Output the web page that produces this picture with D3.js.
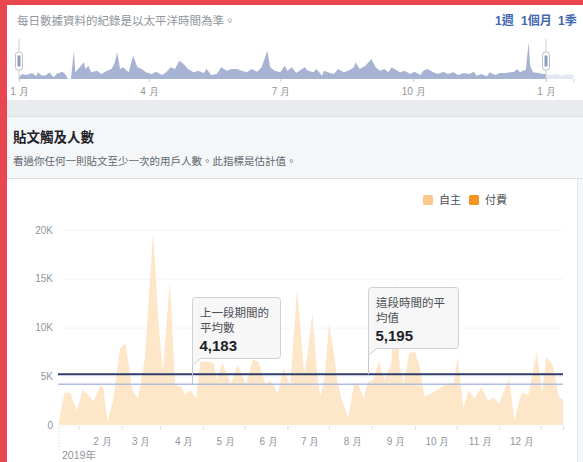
<!DOCTYPE html>
<html>
<head>
<meta charset="utf-8">
<script src="https://cdn.jsdelivr.net/npm/d3@7"></script>
<style>
  body { margin: 0; background: #fff; }
  svg { display: block; font-family: "Helvetica Neue", Arial, "Liberation Sans", "Noto Sans CJK TC", sans-serif; }
</style>
</head>
<body>
<svg id="chart" width="583" height="462"></svg>
<script>
// ---- data ----
// main series: post reach per day (自主), 2019
const reachDates = [
  "01-01","01-05","01-09","01-14","01-18","01-22","01-26","01-31",
  "02-02","02-05","02-09","02-14","02-18","02-23","02-27",
  "03-04","03-10","03-14","03-17","03-22","03-26","03-30",
  "04-02","04-06","04-10","04-13","04-19","04-23","04-25","04-29",
  "05-05","05-10","05-16","05-21","05-25","05-30",
  "06-03","06-08","06-12","06-17","06-22","06-27","06-29",
  "07-03","07-07","07-09","07-12","07-15","07-19","07-21","07-24","07-29",
  "08-02","08-05","08-09","08-12","08-16","08-20","08-24","08-29",
  "09-01","09-04","09-07","09-11","09-15","09-18","09-22","09-29",
  "10-04","10-09","10-13","10-16","10-20","10-24","10-28",
  "11-02","11-07","11-11","11-15","11-22","11-26",
  "12-01","12-06","12-12","12-16","12-19","12-24","12-28","12-31"
];
const organicReach = [
  400, 3300, 3300, 1500, 3600, 3100, 2400, 4100,
  3800, 300, 2500, 7800, 8400, 3600, 2700,
  6800, 19800, 10300, 5500, 14700, 4100, 3900,
  3100, 3600, 2700, 6500, 6500, 6300, 4600, 6400,
  4200, 6200, 4200, 6700, 6500, 4200,
  4600, 3200, 5800, 4000, 14000, 5400, 6700,
  11500, 4300, 3000, 5000, 10500, 6900, 4500, 2700, 700,
  4200, 4300, 2700, 4400, 4600, 6600, 4600, 6300,
  15000, 6000, 4300, 7400, 7500, 6300, 2900, 3400,
  3900, 4300, 4300, 7000, 1800, 3600, 2700,
  3900, 2500, 2800, 2200, 4800, 500,
  3300, 3100, 7400, 3400, 7000, 6000, 2900, 2600
];
const yTicks = [0, 5000, 10000, 15000, 20000];
const monthLabels = ["2 月","3 月","4 月","5 月","6 月","7 月","8 月","9 月","10 月","11 月","12 月"];

// averages and their callouts
const avgLines = [["上一段期間的", "平均數"], ["這段時間的平", "均值"]];
const avgValues = [4183, 5195];
const avgAnchor = ["2019-04-07", "2019-08-12"];

const legendNames = ["自主", "付費"];
const rangeButtons = ["1週", "1個月", "1季"];

// overview strip: day offset from 2019-01-01, relative height
const miniDays = [0,2,5,9,12,13,16,19,21,24,26,30,32,34,36,38,39,42,45,46,48,50,54,57,61,64,66,68,70,72,
  76,79,82,85,88,92,95,99,102,105,108,111,114,117,121,124,128,130,133,137,140,144,147,151,154,158,161,165,168,172,
  174,177,181,184,186,189,192,196,198,200,204,206,210,211,214,218,221,225,228,232,233,236,240,244,247,250,253,256,258,260,
  264,267,271,274,278,280,283,287,290,294,297,301,304,308,312,315,317,320,324,326,330,333,337,340,343,345,347,349,351,353,
  354,356,360,363,365];
const miniValues = [1.7,5,4,6,2.7,6.7,3.3,4,6.7,1.7,5,7.3,5,0,0,28.3,6.7,11.7,16.7,10,13.3,6.7,8.3,5,8.3,10,15,26.7,10,11.7,
  6.7,23.3,11.7,10,6.7,5,7.3,4,6.7,11.7,10,18.3,15,10,6.7,8.3,6,10,4,5,11.7,8.3,10,10,8.3,6.7,10,7.3,11.7,28.3,
  11.7,8.3,6.7,13.3,8.3,11.7,6,10,11.7,8.3,6.7,10,3.3,8.3,6.7,5,10,6.7,8.3,11.7,16.7,10,13.3,20,11.7,8.3,10,6.7,11.7,10,
  6.7,8.3,5,7.3,4,8.3,10,6.7,5,7.3,5,6.7,4,6,5,7.3,3.3,5,2.7,6.7,4,6,6,6.7,7.3,10,6.7,8.3,9,36.7,
  13.3,6.7,6,5,5];
const miniNextDays = [365, 368, 372, 376, 380, 384];
const miniNextValues = [5, 4, 5, 3.3, 4.7, 4];
const miniTickMonths = [[2019,0],[2019,3],[2019,6],[2019,9],[2020,0]];

// ---- page frame ----
const W = 583, H = 462;
const svg = d3.select("#chart");
const parse = d3.timeParse("%Y-%m-%d");
const day0 = new Date(2019, 0, 1);

svg.append("rect").attr("width", W).attr("height", H).attr("fill", "#e8474f");
svg.append("rect").attr("x", 7).attr("y", 5).attr("width", W - 7).attr("height", 95).attr("fill", "#fff");
svg.append("rect").attr("x", 7).attr("y", 100).attr("width", W - 7).attr("height", 16).attr("fill", "#e9ebee");
svg.append("rect").attr("x", 7).attr("y", 116).attr("width", W - 7).attr("height", 62).attr("fill", "#f5f6f7");
svg.append("line").attr("x1", 7).attr("x2", W).attr("y1", 116.5).attr("y2", 116.5).attr("stroke", "#dddfe2");
svg.append("rect").attr("x", 7).attr("y", 178).attr("width", 570).attr("height", H - 178).attr("fill", "#fff");
svg.append("line").attr("x1", 7).attr("x2", W).attr("y1", 178.5).attr("y2", 178.5).attr("stroke", "#dddfe2");
svg.append("rect").attr("x", 577).attr("y", 179).attr("width", 6).attr("height", H - 179).attr("fill", "#f5f6f7");
svg.append("line").attr("x1", 577.5).attr("x2", 577.5).attr("y1", 179).attr("y2", H).attr("stroke", "#e3e5e8");

// ---- overview strip ----
svg.append("text").attr("x", 17).attr("y", 25).attr("font-size", 11.5).attr("fill", "#90949c")
  .text("每日數據資料的紀錄是以太平洋時間為準。");

const btnX = [495, 521, 558];
svg.selectAll(".btn").data(rangeButtons).enter().append("text")
  .attr("x", (d, i) => btnX[i]).attr("y", 25)
  .attr("font-size", 12).attr("font-weight", "bold").attr("fill", "#4267b2")
  .text(d => d);

const miniX = d3.scaleTime().domain([day0, new Date(2020, 0, 1)]).range([19, 546]);
const miniY = d3.scaleLinear().domain([0, 40]).range([79, 39]);
const miniArea = d3.area()
  .x(d => miniX(d3.timeDay.offset(day0, d[0])))
  .y0(miniY(0))
  .y1(d => miniY(d[1]));

svg.append("path").datum(miniDays.map((d, i) => [d, miniValues[i]]))
  .attr("d", miniArea).attr("fill", "#a7b3d2");
svg.append("path").datum(miniNextDays.map((d, i) => [d, miniNextValues[i]]))
  .attr("d", miniArea).attr("fill", "#e3e8f3");

const miniAxis = d3.axisBottom(miniX)
  .tickValues(miniTickMonths.map(m => new Date(m[0], m[1], 1)))
  .tickFormat(d => (d.getMonth() + 1) + " 月")
  .tickSize(3).tickPadding(5.5);
const gMini = svg.append("g").attr("transform", "translate(0,79)").call(miniAxis);
gMini.select(".domain").remove();
gMini.selectAll(".tick line").attr("stroke", "#ccd0d5");
gMini.selectAll("text").attr("fill", "#90949c").attr("font-size", 10).attr("font-family", null);
svg.append("line").attr("x1", 574).attr("x2", 574).attr("y1", 79).attr("y2", 82).attr("stroke", "#ccd0d5");

// range handles
[day0, new Date(2020, 0, 1)].forEach(d => {
  const hx = miniX(d);
  svg.append("line").attr("x1", hx).attr("x2", hx).attr("y1", 39).attr("y2", 80)
    .attr("stroke", "#ccd0d5");
  svg.append("rect").attr("x", hx - 3.5).attr("y", 52).attr("width", 7).attr("height", 18).attr("rx", 3)
    .attr("fill", "#fff").attr("stroke", "#bec2c9");
  svg.append("rect").attr("x", hx - 1.5).attr("y", 55.5).attr("width", 3).attr("height", 11)
    .attr("fill", "#8b9dc3");
});

// ---- section header ----
svg.append("text").attr("x", 13).attr("y", 142).attr("font-size", 13.5).attr("font-weight", "bold")
  .attr("fill", "#1d2129").text("貼文觸及人數");
svg.append("text").attr("x", 13).attr("y", 165).attr("font-size", 10.5).attr("fill", "#606770")
  .text("看過你任何一則貼文至少一次的用戶人數。此指標是估計值。");

// legend
const legendColors = ["#fdc98b", "#f7931e"];
const legendX = [423, 469];
legendNames.forEach((name, i) => {
  svg.append("rect").attr("x", legendX[i]).attr("y", 195).attr("width", 10).attr("height", 10).attr("rx", 1.5)
    .attr("fill", legendColors[i]);
  svg.append("text").attr("x", legendX[i] + 16).attr("y", 204).attr("font-size", 11)
    .attr("fill", "#4b4f56").text(name);
});

// ---- main chart ----
const x = d3.scaleTime().domain([day0, new Date(2019, 11, 31)]).range([59, 563]);
const y = d3.scaleLinear().domain([0, 20000]).range([425, 230]);

svg.append("g").selectAll("line").data(yTicks.slice(1)).enter().append("line")
  .attr("x1", 62).attr("x2", 563)
  .attr("y1", d => y(d) + 0.5).attr("y2", d => y(d) + 0.5)
  .attr("stroke", "#f3f4f6");

const gy = svg.append("g").attr("transform", "translate(60,0)")
  .call(d3.axisLeft(y).tickValues(yTicks).tickSize(0).tickPadding(7)
    .tickFormat(d => d === 0 ? "0" : (d / 1000) + "K"));
gy.select(".domain").remove();
gy.selectAll("text").attr("fill", "#90949c").attr("font-size", 10).attr("font-family", null);

const series = reachDates.map((d, i) => ({ date: parse("2019-" + d), value: organicReach[i] }));
svg.append("path").datum(series)
  .attr("d", d3.area().x(d => x(d.date)).y0(y(0)).y1(d => y(d.value)))
  .attr("fill", "#fee6c9");

// x axis: ticks mid-month, labels at month starts
svg.append("line").attr("x1", 59).attr("x2", 563).attr("y1", 426.5).attr("y2", 426.5)
  .attr("stroke", "#e4e6ea").attr("stroke-dasharray", "1,3");
const gxTicks = svg.append("g").attr("transform", "translate(0,426)")
  .call(d3.axisBottom(x).tickValues(d3.range(12).map(m => new Date(2019, m, 15)).concat([new Date(2019, 11, 31)]))
    .tickSize(4).tickFormat(""));
gxTicks.select(".domain").remove();
gxTicks.selectAll(".tick line").attr("stroke", "#dddfe2");

const gx = svg.append("g").attr("transform", "translate(0,426)")
  .call(d3.axisBottom(x).tickValues(d3.range(1, 12).map(m => new Date(2019, m, 1)))
    .tickSize(0).tickPadding(11.5).tickFormat((d, i) => monthLabels[i]));
gx.select(".domain").remove();
gx.selectAll("text").attr("fill", "#90949c").attr("font-size", 10).attr("font-family", null);

svg.append("line").attr("x1", x(day0)).attr("x2", x(day0)).attr("y1", 428).attr("y2", 451)
  .attr("stroke", "#ccd0d5").attr("stroke-dasharray", "1,2");
svg.append("text").attr("x", 62).attr("y", 459).attr("font-size", 10.5).attr("fill", "#90949c").text("2019年");

// average lines
const avgColors = ["#aebde0", "#2f3d6b"];
const avgWidths = [1.5, 2];
avgValues.forEach((v, i) => {
  svg.append("line").attr("x1", 58).attr("x2", 563).attr("y1", y(v)).attr("y2", y(v))
    .attr("stroke", avgColors[i]).attr("stroke-width", avgWidths[i]);
});

// callouts
const boxW = [88, 90];
avgValues.forEach((v, i) => {
  const x0 = Math.round(x(parse(avgAnchor[i]))) + 0.5;
  const ty = y(v);
  const y1 = Math.round(ty - 26) + 0.5;
  const y0 = y1 - 61;
  const x1 = x0 + boxW[i];
  const g = svg.append("g");
  g.append("line").attr("x1", x0).attr("x2", x0).attr("y1", y1 + 7).attr("y2", ty)
    .attr("stroke", "#c4c7cc");
  g.append("path")
    .attr("d", `M${x0 + 3},${y0} H${x1 - 3} Q${x1},${y0} ${x1},${y0 + 3} V${y1 - 3} Q${x1},${y1} ${x1 - 3},${y1}` +
      ` H${x0 + 8} L${x0},${y1 + 7} V${y0 + 3} Q${x0},${y0} ${x0 + 3},${y0} Z`)
    .attr("fill", "#f7f7f8").attr("stroke", "#cfd1d5");
  avgLines[i].forEach((t, k) => {
    g.append("text").attr("x", x0 + 7.5).attr("y", y0 + 19 + k * 15.5)
      .attr("font-size", 11.5).attr("fill", "#4b4f56").text(t);
  });
  g.append("text").attr("x", x0 + 7).attr("y", y0 + 53)
    .attr("font-size", 15).attr("font-weight", "bold").attr("fill", "#1d2129")
    .text(d3.format(",")(v));
});
</script>
</body>
</html>
